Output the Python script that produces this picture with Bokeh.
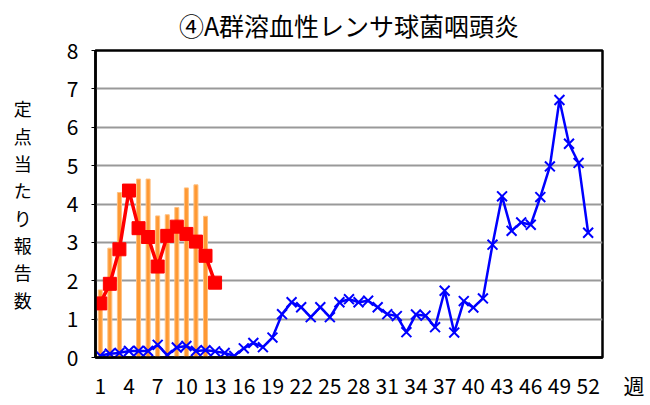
from bokeh.plotting import figure
from bokeh.models import FixedTicker, Range1d, ColumnDataSource
from bokeh.embed import file_html
from bokeh.resources import INLINE

# ---------------- data ----------------
title_text = "④A群溶血性レンサ球菌咽頭炎"
y_title = "定点当たり報告数"
x_unit = "週"

weeks = list(range(1, 53))
tick_weeks = list(range(1, 53, 3))
y_ticks = list(range(0, 9))

# current season (blue, x markers)
current = [0.05, 0.10, 0.12, 0.17, 0.17, 0.17, 0.33, 0.06, 0.26, 0.30,
           0.17, 0.19, 0.16, 0.12, 0.04, 0.24, 0.38, 0.27, 0.52, 1.13,
           1.44, 1.31, 1.05, 1.31, 1.05, 1.44, 1.52, 1.44, 1.48, 1.31,
           1.13, 1.08, 0.66, 1.12, 1.09, 0.79, 1.74, 0.65, 1.47, 1.30,
           1.54, 2.94, 4.20, 3.30, 3.52, 3.46, 4.18, 4.98, 6.71, 5.57,
           5.07, 3.25]

# red squares series (weeks 1-13)
red_weeks = list(range(1, 14))
red_vals = [1.41, 1.92, 2.82, 4.35, 3.37, 3.14, 2.37, 3.17, 3.41, 3.22,
            3.02, 2.65, 1.95]

# orange bars (weeks 1-12, week 4 without bar)
bar_weeks = list(range(1, 13))
bar_vals = [1.76, 2.85, 4.30, None, 4.65, 4.65, 3.69, 3.72, 3.91, 4.42,
            4.50, 3.68]

FONT = "Noto Sans CJK JP"
X_START, X_END = 0.5, 53.5

bw = [w for w, v in zip(bar_weeks, bar_vals) if v is not None]
bv = [v for v in bar_vals if v is not None]
bar_src = ColumnDataSource(dict(x=bw, top=bv))
red_src = ColumnDataSource(dict(x=red_weeks, y=red_vals))
cur_src = ColumnDataSource(dict(x=weeks, y=current))

p = figure(width=650, height=405, output_backend="svg", toolbar_location=None,
           x_range=Range1d(X_START, X_END), y_range=Range1d(0, 8),
           min_border_left=95, min_border_right=48,
           min_border_top=50, min_border_bottom=48)
p.background_fill_color = "white"
p.border_fill_color = "white"
p.outline_line_color = "black"
p.outline_line_width = 2.5

# title
p.title.text = title_text
p.title.align = "center"
p.title.vertical_align = "top"
p.title.text_font = FONT
p.title.text_font_size = "25px"
p.title.text_font_style = "normal"
p.title.text_color = "black"
p.title.text_line_height = 0.8
p.title.standoff = 12

p.xgrid.visible = False
p.ygrid.ticker = FixedTicker(ticks=y_ticks)
p.ygrid.grid_line_color = "#999999"
p.ygrid.grid_line_width = 2

# x axis: week ticks plus the unit text at the right end of the frame
p.xaxis.ticker = FixedTicker(ticks=tick_weeks + [X_END])
p.xaxis.major_label_overrides = {X_END: "\u3000\u3000\u3000" + x_unit}
p.yaxis.ticker = FixedTicker(ticks=y_ticks)
for ax in (p.xaxis[0], p.yaxis[0]):
    ax.axis_line_color = "black"
    ax.axis_line_width = 2.5
    ax.minor_tick_line_color = None
    ax.major_label_text_font = FONT
    ax.major_label_text_color = "black"
    ax.major_label_text_font_size = "21px"
p.xaxis.major_tick_line_color = None
p.xaxis.major_tick_out = 0
p.xaxis.major_tick_in = 0
p.xaxis.major_label_standoff = 12
p.yaxis.major_tick_line_color = "black"
p.yaxis.major_tick_out = 4
p.yaxis.major_tick_in = 0
p.yaxis.major_label_standoff = 13

# vertical stacked y-axis title
p.yaxis.axis_label = "\n".join(y_title)
p.yaxis.axis_label_orientation = "horizontal"
p.yaxis.axis_label_text_font = FONT
p.yaxis.axis_label_text_font_size = "18px"
p.yaxis.axis_label_text_line_height = 1.05
p.yaxis.axis_label_text_font_style = "normal"
p.yaxis.axis_label_text_color = "black"
p.yaxis.axis_label_standoff = 32

p.vbar(x="x", top="top", width=0.42, source=bar_src,
       fill_color="#FF9933", line_color="#FFC080", line_width=1)
p.line(x="x", y="y", source=red_src, line_color="#FF0000", line_width=3.5)
p.scatter(x="x", y="y", source=red_src, marker="square", size=13,
          fill_color="#FF0000", line_color="#FF0000")
p.line(x="x", y="y", source=cur_src, line_color="#0000FF", line_width=2.5)
p.scatter(x="x", y="y", source=cur_src, marker="x", size=14,
          line_color="#0000FF", line_width=2)

open("out.html", "w").write(file_html(p, INLINE))
